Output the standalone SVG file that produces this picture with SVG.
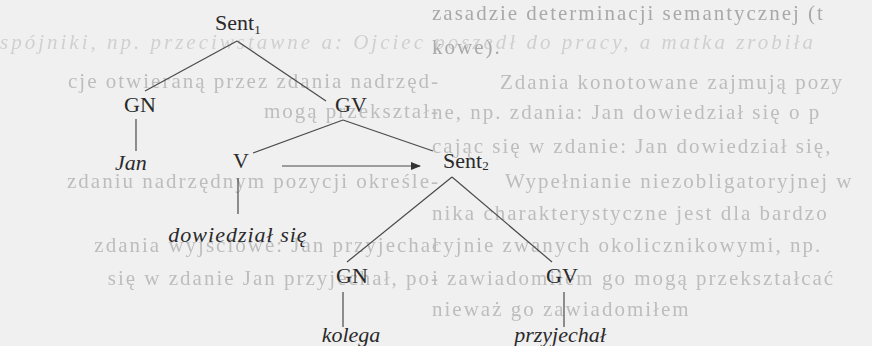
<svg xmlns="http://www.w3.org/2000/svg" width="872" height="346" viewBox="0 0 872 346">
  <defs>
    <filter id="soft" x="-5%" y="-20%" width="110%" height="140%">
      <feGaussianBlur stdDeviation="0.7"/>
    </filter>
    <marker id="head" viewBox="0 0 10 8" refX="9" refY="4" markerWidth="10" markerHeight="8" markerUnits="userSpaceOnUse" orient="auto">
      <path d="M0,0 L10,4 L0,8 Z" fill="#333"/>
    </marker>
  </defs>
  <style>
    .page { font-family: "Liberation Serif", "DejaVu Serif", serif; font-size: 21px; letter-spacing: 2px; fill: #bdbdbd; }
    .page.dark { fill: #a9a9a9; }
    .page.it { font-style: italic; fill: #d0d0d0; letter-spacing: 3px; }
    .end { text-anchor: end; }
    .lbl { font-family: "Liberation Serif", "DejaVu Serif", serif; font-size: 22px; fill: #2a2a2a; }
    .word { font-family: "Liberation Serif", "DejaVu Serif", serif; font-size: 22px; font-style: italic; fill: #2a2a2a; }
    .sub { font-size: 13px; }
    .edge { stroke: #4a4a4a; stroke-width: 1.2; fill: none; }
  </style>

  <rect width="872" height="346" fill="#f0f0f0"/>

  <!-- printed page text behind the tree -->
  <g id="page-text" filter="url(#soft)">
    <text class="page it" x="0" y="49">spójniki, np. przeciwstawne a: Ojciec poszedł do pracy, a matka zrobiła</text>
    <text class="page dark" x="432" y="20">zasadzie determinacji semantycznej (t</text>
    <text class="page dark" x="432" y="54">kowe).</text>
    <text class="page" x="500" y="89">Zdania konotowane zajmują pozy</text>
    <text class="page end" x="440" y="88">cje otwieraną przez zdania nadrzęd-</text>
    <text class="page" x="432" y="119">ne, np. zdania: Jan dowiedział się o p</text>
    <text class="page end" x="440" y="118">mogą przekształ-</text>
    <text class="page" x="432" y="153">cając się w zdanie: Jan dowiedział się,</text>
    <text class="page" x="505" y="188">Wypełnianie niezobligatoryjnej w</text>
    <text class="page end" x="440" y="188">zdaniu nadrzędnym pozycji określe-</text>
    <text class="page" x="432" y="220">nika charakterystyczne jest dla bardzo</text>
    <text class="page" x="432" y="252">cyjnie zwanych okolicznikowymi, np.</text>
    <text class="page end" x="440" y="252">zdania wyjściowe: Jan przyjechał</text>
    <text class="page" x="432" y="285">i zawiadomiłem go mogą przekształcać</text>
    <text class="page end" x="440" y="285">się w zdanie Jan przyjechał, po-</text>
    <text class="page" x="432" y="316">nieważ go zawiadomiłem</text>
  </g>

  <!-- tree edges and the arrow -->
  <g id="connectors">
    <line class="edge" x1="237" y1="41" x2="145" y2="91"/>
    <line class="edge" x1="237" y1="41" x2="326" y2="101"/>
    <line class="edge" x1="136" y1="119" x2="136" y2="151"/>
    <line class="edge" x1="343" y1="120" x2="253" y2="153"/>
    <line class="edge" x1="343" y1="120" x2="433" y2="151"/>
    <line class="edge" x1="238" y1="178" x2="238" y2="214"/>
    <line class="edge" x1="282" y1="166" x2="420" y2="166" marker-end="url(#head)"/>
    <line class="edge" x1="452" y1="177" x2="347" y2="262"/>
    <line class="edge" x1="452" y1="177" x2="552" y2="262"/>
    <line class="edge" x1="343" y1="292" x2="343" y2="327"/>
    <line class="edge" x1="564" y1="292" x2="564" y2="327"/>
  </g>

  <g id="sent1"><text class="lbl" x="215" y="30">Sent<tspan class="sub" dy="4">1</tspan></text></g>
  <g id="gn1"><text class="lbl" x="140" y="112" text-anchor="middle">GN</text></g>
  <g id="gv1"><text class="lbl" x="351" y="112" text-anchor="middle">GV</text></g>
  <g id="jan"><text class="word" x="131" y="170" text-anchor="middle">Jan</text></g>
  <g id="v"><text class="lbl" x="241" y="168" text-anchor="middle">V</text></g>
  <g id="dowiedzial"><text class="word" x="238" y="242" text-anchor="middle" letter-spacing="1">dowiedział się</text></g>
  <g id="sent2"><text class="lbl" x="443" y="168">Sent<tspan class="sub" dy="2">2</tspan></text></g>
  <g id="gn2"><text class="lbl" x="352" y="283" text-anchor="middle">GN</text></g>
  <g id="gv2"><text class="lbl" x="562" y="283" text-anchor="middle">GV</text></g>
  <g id="kolega"><text class="word" x="351" y="342" text-anchor="middle">kolega</text></g>
  <g id="przyjechal"><text class="word" x="560" y="342" text-anchor="middle">przyjechał</text></g>
</svg>
